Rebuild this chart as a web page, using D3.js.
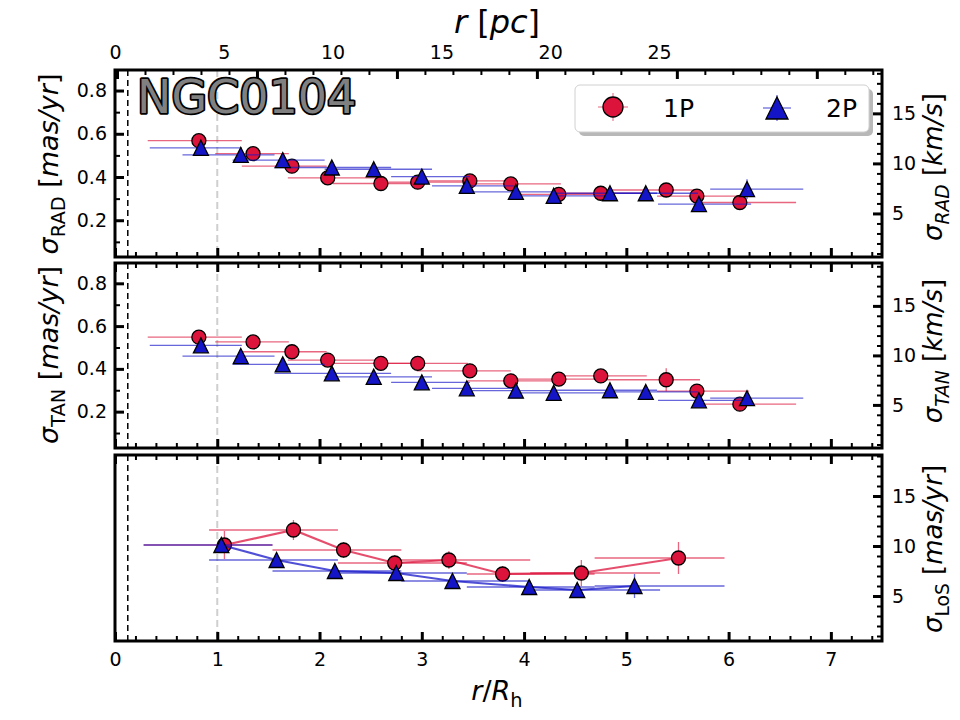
<!DOCTYPE html>
<html>
<head>
<meta charset="utf-8">
<script src="https://cdn.jsdelivr.net/npm/d3@7"></script>
<style>
body { margin:0; background:#fff; }
svg text { font-family:"DejaVu Sans", sans-serif; }
</style>
</head>
<body>
<div id="chart"></div>
<script>
// bins in r/Rh (RAD and TAN use the same bins)
var r1P   = [0.82,1.35,1.73,2.08,2.60,2.96,3.47,3.87,4.34,4.75,5.39,5.69,6.11];
var r1PLo = [0.32,0.98,1.24,1.69,2.13,2.59,2.95,3.45,3.87,4.36,4.73,5.30,5.73];
var r1PHi = [1.24,1.70,2.07,2.59,2.95,3.45,3.87,4.36,4.73,5.20,5.72,6.20,6.66];
var r2P   = [0.84,1.23,1.64,2.12,2.53,3.00,3.44,3.92,4.29,4.84,5.19,5.71,6.18];
var r2PLo = [0.34,0.66,1.15,1.56,2.05,2.70,3.10,3.47,3.90,4.30,4.80,5.31,5.82];
var r2PHi = [1.24,1.56,2.05,2.70,3.10,3.47,3.90,4.30,4.80,5.30,5.70,6.22,6.73];

// sigma RAD [mas/yr]
var sigRad1P    = [0.568,0.508,0.450,0.396,0.370,0.376,0.382,0.368,0.320,0.325,0.340,0.312,0.282];
var sigRad1PErr = [0.022,0.018,0.018,0.016,0.016,0.016,0.016,0.016,0.016,0.018,0.020,0.024,0.028];
var sigRad2P    = [0.535,0.502,0.478,0.444,0.436,0.402,0.359,0.331,0.313,0.325,0.325,0.275,0.344];
var sigRad2PErr = [0.020,0.016,0.016,0.016,0.016,0.016,0.016,0.016,0.016,0.018,0.018,0.024,0.046];

// sigma TAN [mas/yr]
var sigTan1P    = [0.548,0.526,0.480,0.441,0.426,0.426,0.391,0.344,0.352,0.367,0.349,0.296,0.235];
var sigTan1PErr = [0.026,0.022,0.018,0.016,0.016,0.016,0.016,0.018,0.018,0.020,0.054,0.024,0.024];
var sigTan2P    = [0.510,0.460,0.421,0.379,0.363,0.337,0.309,0.298,0.288,0.300,0.292,0.253,0.263];
var sigTan2PErr = [0.020,0.016,0.016,0.016,0.016,0.016,0.016,0.016,0.016,0.020,0.018,0.022,0.026];

// sigma LoS (right axis units)
var rLos1P      = [1.07,1.745,2.235,2.735,3.265,3.79,4.56,5.51];
var rLos2P      = [1.04,1.58,2.15,2.75,3.30,4.05,4.52,5.08];
var rLosLo      = [0.28,0.92,1.54,2.18,2.80,3.44,4.06,4.69];
var rLosHi      = [1.54,2.18,2.80,3.44,4.06,4.69,5.33,5.96];
var sigLos1P    = [10.1,11.6,9.6,8.3,8.6,7.2,7.3,8.8];
var sigLos1PErr = [1.4,1.0,0.8,0.8,0.9,0.8,1.3,1.6];
var sigLos2P    = [10.1,8.6,7.5,7.3,6.5,5.9,5.6,6.0];
var sigLos2PErr = [0.6,0.6,0.5,0.5,0.6,0.6,0.7,1.2];

// ticks
var rTicks   = [0,1,2,3,4,5,6,7];
var pcTicks  = [0,5,10,15,20,25];
var masTicks = [0.2,0.4,0.6,0.8];
var kmsTicks = [5,10,15];

var K = 21.6;       // km/s per mas/yr
var RH_PC = 4.7;    // pc per Rh
var RED = "#dc143c", BLUE = "#1515c8";

var svg = d3.select("#chart").append("svg").attr("width", 960).attr("height", 720);

var x = d3.scaleLinear().domain([0, 7.5]).range([115, 882]);
var xpc = d3.scaleLinear().domain([0, 7.5 * RH_PC]).range([115, 882]);
var xtop = d3.scaleLinear().domain([0, 5.48]).range([117, 884]);

var panels = [{top:70, bottom:257}, {top:263, bottom:448}, {top:455, bottom:641}];

function styleAxis(g, w, fs) {
	g.select(".domain").remove();
	g.selectAll("line").attr("stroke", "#000").attr("stroke-width", w);
	g.selectAll("text").attr("font-size", fs).attr("fill", "#000").style("font-family", "DejaVu Sans");
}

function addAxis(axis, tx, ty, w, fs) {
	var g = svg.append("g").attr("transform", "translate(" + tx + "," + ty + ")").call(axis);
	styleAxis(g, w, fs || 19);
	return g;
}

function minors(lo, hi, step, major) {
	return d3.range(lo, hi + 1e-9, step).filter(function(v) {
		return !major.some(function(m) { return Math.abs(m - v) < 1e-6; });
	});
}

var xMinor = minors(0.2, 7.4, 0.2, rTicks);

function triPath(s) {
	return "M0," + (-s) + "L" + s + "," + s + "L" + (-s) + "," + s + "Z";
}

function series(rs, lo, hi, vs, es, y, col, shape, line) {
	var g = svg.append("g");
	var d = rs.map(function(r, i) { return {r:r, lo:lo[i], hi:hi[i], v:vs[i], e:es[i]}; });
	if (line) {
		g.append("path").datum(d)
			.attr("d", d3.line().x(function(p){ return x(p.r); }).y(function(p){ return y(p.v); }))
			.attr("fill", "none").attr("stroke", col).attr("stroke-width", 2.2).attr("stroke-opacity", 0.75);
	}
	g.selectAll(".hb").data(d).enter().append("line")
		.attr("x1", function(p){ return x(p.lo); }).attr("x2", function(p){ return x(p.hi); })
		.attr("y1", function(p){ return y(p.v); }).attr("y2", function(p){ return y(p.v); })
		.attr("stroke", col).attr("stroke-width", 1.3).attr("stroke-opacity", 0.65);
	g.selectAll(".vb").data(d).enter().append("line")
		.attr("x1", function(p){ return x(p.r); }).attr("x2", function(p){ return x(p.r); })
		.attr("y1", function(p){ return y(p.v - p.e); }).attr("y2", function(p){ return y(p.v + p.e); })
		.attr("stroke", col).attr("stroke-width", 1.3).attr("stroke-opacity", 0.65);
	if (shape === "circle") {
		g.selectAll(".m").data(d).enter().append("circle")
			.attr("cx", function(p){ return x(p.r); }).attr("cy", function(p){ return y(p.v); })
			.attr("r", 7).attr("fill", col).attr("stroke", "#000").attr("stroke-width", 1.3);
	} else {
		g.selectAll(".m").data(d).enter().append("path")
			.attr("transform", function(p){ return "translate(" + x(p.r) + "," + y(p.v) + ")"; })
			.attr("d", triPath(7.5)).attr("fill", col).attr("stroke", "#000").attr("stroke-width", 1.3);
	}
}

// label with optional subscripts / italics
function label(tx, ty, rot, parts, fs) {
	var t = svg.append("text")
		.attr("transform", "translate(" + tx + "," + ty + ") rotate(" + rot + ")")
		.attr("text-anchor", "middle").attr("font-size", fs).attr("fill", "#000");
	var shift = 0;
	parts.forEach(function(p) {
		var s = t.append("tspan").text(p.t);
		if (p.it) s.attr("font-style", "italic");
		var want = p.sub ? fs * 0.25 : 0;
		s.attr("dy", want - shift);
		shift = want;
		if (p.sub) s.attr("font-size", fs * 0.72);
	});
	return t;
}

panels.forEach(function(p, i) {
	var top = p.top, bot = p.bottom;
	var y = d3.scaleLinear().domain([0.03, 0.895]).range([bot, top]);
	var yr = (i < 2) ? d3.scaleLinear().domain([0.03 * K, 0.895 * K]).range([bot, top])
	                 : d3.scaleLinear().domain([0.5, 19.1]).range([bot, top]);
	p.y = y; p.yr = yr;

	// reference lines
	svg.append("line").attr("x1", x(0.125)).attr("x2", x(0.125)).attr("y1", top).attr("y2", bot)
		.attr("stroke", "#000").attr("stroke-width", 1.5).attr("stroke-dasharray", "6,4");
	svg.append("line").attr("x1", x(1)).attr("x2", x(1)).attr("y1", top).attr("y2", bot)
		.attr("stroke", "#cfcfcf").attr("stroke-width", 2).attr("stroke-dasharray", "7,4");

	// bottom ticks
	addAxis(d3.axisBottom(x).tickValues(rTicks).tickSize(-9).tickPadding(12)
		.tickFormat(i === 2 ? d3.format("d") : ""), 0, bot, 3);
	addAxis(d3.axisBottom(x).tickValues(xMinor).tickSize(-5).tickFormat(""), 0, bot, 2);
	// top ticks
	if (i === 0) {
		addAxis(d3.axisTop(xtop).tickValues([0,1,2,3,4,5]).tickSize(-9).tickFormat(""), 0, top, 3);
		addAxis(d3.axisTop(xtop).tickValues(minors(0.2, 5.4, 0.2, [0,1,2,3,4,5])).tickSize(-5).tickFormat(""), 0, top, 2);
		addAxis(d3.axisTop(xpc).tickValues(pcTicks).tickSize(0).tickPadding(11).tickFormat(d3.format("d")), 0, top, 0);
	} else {
		addAxis(d3.axisTop(x).tickValues(rTicks).tickSize(-9).tickFormat(""), 0, top, 3);
		addAxis(d3.axisTop(x).tickValues(xMinor).tickSize(-5).tickFormat(""), 0, top, 2);
	}
	// left
	if (i < 2) {
		addAxis(d3.axisLeft(y).tickValues(masTicks).tickSize(-9).tickPadding(8).tickFormat(d3.format(".1f")), 115, 0, 3);
		addAxis(d3.axisLeft(y).tickValues([0.1,0.3,0.5,0.7]).tickSize(-5).tickFormat(""), 115, 0, 2);
	}
	// right
	addAxis(d3.axisRight(yr).tickValues(kmsTicks).tickSize(-9).tickPadding(10).tickFormat(d3.format("d")), 882, 0, 3);
	addAxis(d3.axisRight(yr).tickValues(minors(1, 19, 1, kmsTicks)).tickSize(-5).tickFormat(""), 882, 0, 2);

	svg.append("rect").attr("x", 115).attr("y", top).attr("width", 767).attr("height", bot - top)
		.attr("fill", "none").attr("stroke", "#000").attr("stroke-width", 3);
});

series(r1P, r1PLo, r1PHi, sigRad1P, sigRad1PErr, panels[0].y, RED, "circle");
series(r2P, r2PLo, r2PHi, sigRad2P, sigRad2PErr, panels[0].y, BLUE, "tri");
series(r1P, r1PLo, r1PHi, sigTan1P, sigTan1PErr, panels[1].y, RED, "circle");
series(r2P, r2PLo, r2PHi, sigTan2P, sigTan2PErr, panels[1].y, BLUE, "tri");
series(rLos1P, rLosLo, rLosHi, sigLos1P, sigLos1PErr, panels[2].yr, RED, "circle", true);
series(rLos2P, rLosLo, rLosHi, sigLos2P, sigLos2PErr, panels[2].yr, BLUE, "tri", true);

// title
svg.append("text").attr("x", 137).attr("y", 113).attr("font-size", 46)
	.attr("fill", "#808080").attr("stroke", "#000").attr("stroke-width", 3.5)
	.attr("paint-order", "stroke").attr("stroke-linejoin", "round").text("NGC0104");

// legend
var lg = svg.append("g");
lg.append("rect").attr("x", 579).attr("y", 89).attr("width", 294).attr("height", 47).attr("rx", 5).attr("fill", "#b8b8b8");
lg.append("rect").attr("x", 575).attr("y", 85).attr("width", 294).attr("height", 47).attr("rx", 5)
	.attr("fill", "#fff").attr("stroke", "#d0d0d0").attr("stroke-width", 1);
lg.append("line").attr("x1", 598).attr("x2", 628).attr("y1", 107).attr("y2", 107).attr("stroke", RED).attr("stroke-opacity", 0.65);
lg.append("line").attr("x1", 613).attr("x2", 613).attr("y1", 93).attr("y2", 121).attr("stroke", RED).attr("stroke-opacity", 0.65);
lg.append("circle").attr("cx", 613).attr("cy", 107).attr("r", 10).attr("fill", RED).attr("stroke", "#000").attr("stroke-width", 1.3);
lg.append("text").attr("x", 663).attr("y", 117).attr("font-size", 25).text("1P");
lg.append("line").attr("x1", 763).attr("x2", 791).attr("y1", 108).attr("y2", 108).attr("stroke", BLUE).attr("stroke-opacity", 0.8);
lg.append("line").attr("x1", 777).attr("x2", 777).attr("y1", 95).attr("y2", 121).attr("stroke", BLUE).attr("stroke-opacity", 0.8);
lg.append("path").attr("transform", "translate(777,108)").attr("d", triPath(11)).attr("fill", BLUE).attr("stroke", "#000").attr("stroke-width", 1.3);
lg.append("text").attr("x", 826).attr("y", 117).attr("font-size", 25).text("2P");

// axis titles
label(497, 33, 0, [{t:"r", it:true}, {t:" ["}, {t:"pc", it:true}, {t:"]"}], 32);
label(497, 700, 0, [{t:"r", it:true}, {t:"/"}, {t:"R", it:true}, {t:"h", sub:true}], 27);
label(58, 164, -90, [{t:"σ", it:true}, {t:"RAD", sub:true}, {t:" ["}, {t:"mas/yr", it:true}, {t:"]"}], 27);
label(58, 355, -90, [{t:"σ", it:true}, {t:"TAN", sub:true}, {t:" ["}, {t:"mas/yr", it:true}, {t:"]"}], 27);
label(942, 167, -90, [{t:"σ", it:true}, {t:"RAD", it:true, sub:true}, {t:" ["}, {t:"km/s", it:true}, {t:"]"}], 26);
label(942, 351, -90, [{t:"σ", it:true}, {t:"TAN", it:true, sub:true}, {t:" ["}, {t:"km/s", it:true}, {t:"]"}], 26);
label(942, 549, -90, [{t:"σ", it:true}, {t:"LoS", sub:true}, {t:" ["}, {t:"mas/yr", it:true}, {t:"]"}], 26);
</script>
</body>
</html>
